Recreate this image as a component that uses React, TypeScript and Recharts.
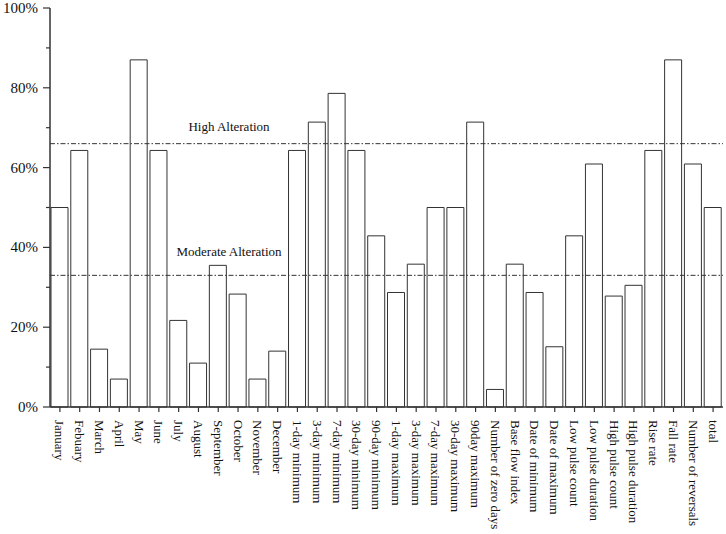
import React from 'react';
import { BarChart, Bar, XAxis, YAxis, ReferenceLine } from 'recharts';

const categories = [
  'January', 'Febuary', 'March', 'April', 'May', 'June', 'July', 'August',
  'September', 'October', 'November', 'December',
  '1-day minimum', '3-day minimum', '7-day minimum', '30-day minimum', '90-day minimum',
  '1-day maximum', '3-day maximum', '7-day maximum', '30-day maximum', '90day maximum',
  'Number of zero days', 'Base flow index', 'Date of minimum', 'Date of maximum',
  'Low pulse count', 'Low pulse duration', 'High pulse count', 'High pulse duration',
  'Rise rate', 'Fall rate', 'Number of reversals', 'total',
];

const alteration = [
  50, 64.3, 14.5, 7, 87, 64.3, 21.7, 11, 35.5, 28.3, 7, 14,
  64.3, 71.4, 78.6, 64.3, 42.9,
  28.7, 35.8, 50, 50, 71.4,
  4.4, 35.8, 28.7, 15.1,
  42.9, 60.9, 27.8, 30.5,
  64.3, 87, 60.9, 50,
];

const yTicks = [0, 10, 20, 30, 40, 50, 60, 70, 80, 90, 100];

const thresholds = [
  { value: 66, label: 'High Alteration', gap: 13 },
  { value: 33, label: 'Moderate Alteration', gap: 19 },
];

const data = categories.map((name, i) => ({ name, value: alteration[i] }));

const FONT = '"Liberation Serif", "Times New Roman", serif';
const INK = '#333';
const Y_TICK_SIZE = 9;
const Y_TICK_MARGIN = 2;

const YTick = ({ x, y, payload }: any) => {
  const major = payload.value % 20 === 0;
  const axisX = x + Y_TICK_SIZE + Y_TICK_MARGIN;
  return (
    <g>
      <line x1={axisX - (major ? 7 : 4)} x2={axisX} y1={y} y2={y} stroke={INK} strokeWidth={1.2} />
      {major && (
        <text x={axisX - 12} y={y} textAnchor="end" dominantBaseline="central" fontFamily={FONT} fontSize={15} fill="#111">
          {payload.value}%
        </text>
      )}
    </g>
  );
};

const XTick = ({ x, y, payload }: any) => (
  <g transform={`translate(${x},${y + 6})`}>
    <text transform="rotate(90)" textAnchor="start" dominantBaseline="central" fontFamily={FONT} fontSize={13} fill="#111">
      {payload.value}
    </text>
  </g>
);

const ThresholdLabel = (text: string, gap: number) => ({ viewBox }: any) => (
  <text x={229} y={viewBox.y - gap} textAnchor="middle" fontFamily={FONT} fontSize={13} fill="#111">
    {text}
  </text>
);

export default function App() {
  return (
    <div style={{ position: 'absolute', left: 0, top: 0, background: '#fff' }}>
      <BarChart width={726} height={534} data={data} margin={{ top: 8, right: 3, left: 0, bottom: 0 }}>
        <XAxis
          dataKey="name"
          interval={0}
          height={127}
          tick={<XTick />}
          tickSize={5}
          tickLine={{ stroke: INK, strokeWidth: 1.2 }}
          axisLine={{ stroke: INK, strokeWidth: 1.5 }}
        />
        <YAxis
          domain={[0, 100]}
          ticks={yTicks}
          interval={0}
          width={50}
          tickLine={false}
          tickSize={Y_TICK_SIZE}
          tickMargin={Y_TICK_MARGIN}
          tick={<YTick />}
          axisLine={{ stroke: INK, strokeWidth: 1.5 }}
        />
        {thresholds.map((t) => (
          <ReferenceLine
            key={t.label}
            y={t.value}
            stroke={INK}
            strokeWidth={1}
            strokeDasharray="5 2 1.5 2"
            label={ThresholdLabel(t.label, t.gap)}
          />
        ))}
        <Bar dataKey="value" fill="#fff" stroke={INK} strokeWidth={1} barSize={17} isAnimationActive={false} />
      </BarChart>
    </div>
  );
}
